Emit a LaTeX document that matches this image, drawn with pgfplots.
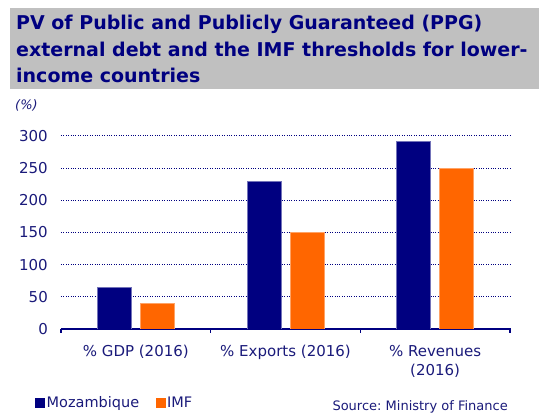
\documentclass[border=0pt]{standalone}
\usepackage{pgfplots}
\pgfplotsset{compat=1.18}
\usepackage{fontspec}
\setmainfont{DejaVu Sans}
\definecolor{navyc}{HTML}{000080}
\definecolor{orangec}{HTML}{FF6600}
\definecolor{titlegray}{HTML}{C0C0C0}
\definecolor{txt}{HTML}{1A1A7A}
\begin{document}
\begin{tikzpicture}[x=1pt,y=1pt]
\path[use as bounding box] (0,0) rectangle (549,414);
\fill[titlegray] (10,325) rectangle (539,406.3);
\node[anchor=base west, inner sep=0, text=navyc, font=\bfseries\fontsize{19}{21}\selectfont] at (16,384) {PV of Public and Publicly Guaranteed (PPG)};
\node[anchor=base west, inner sep=0, text=navyc, font=\bfseries\fontsize{19}{21}\selectfont] at (16,357.5) {external debt and the IMF thresholds for lower-};
\node[anchor=base west, inner sep=0, text=navyc, font=\bfseries\fontsize{19}{21}\selectfont] at (16,331) {income countries};
\node[anchor=base west, inner sep=0, text=txt, font=\itshape\fontsize{13}{15}\selectfont] at (15,304) {(\%)};
\node[anchor=base east, inner sep=0, text=txt, font=\fontsize{13}{15}\selectfont] at (508,3) {Source:\ Ministry\ of Finance};
\begin{axis}[
  at={(61pt,85pt)}, anchor=origin,
  scale only axis, width=449pt, height=193pt,
  xmin=0, xmax=3, ymin=0, ymax=300,
  ytick={0,50,...,300},
  ymajorgrids, grid style={navyc, dotted, line width=1pt},
  axis x line*=bottom, axis y line*=left,
  y axis line style={draw=none},
  x axis line style={navyc, line width=1.5pt, -},
  xtick={0.5,1.5,2.5},
  xticklabels={{\% GDP (2016)},{\% Exports (2016)},{\% Revenues\\(2016)}},
  minor xtick={0,1,2,3},
  tick align=outside,
  major tick length=0pt, minor tick length=4pt,
  minor tick style={navyc, line width=1.2pt},
  major tick style={draw=none},
  /pgf/number format/assume math mode=true,
  ticklabel style={text=txt, font=\fontsize{15}{19}\selectfont},
  xticklabel style={align=center, inner sep=0pt, yshift=-16pt},
  yticklabel style={inner sep=0pt, xshift=-13pt},
  ybar, bar width=34pt,
  legend style={draw=none, fill=none, at={(axis description cs:-0.058,0)}, anchor=west, yshift=-74pt,
    font=\fontsize{14.5}{17}\selectfont, text=txt, inner sep=0pt,
    nodes={inner sep=1.5pt},
    /tikz/every even column/.append style={column sep=15pt}},
  legend columns=2,
  legend image code/.code={\path[#1,draw=none] (0pt,-5pt) rectangle (10pt,5pt);},
]
\addplot[fill=navyc, draw=navyc!55!white, line width=0.6pt, bar shift=-21.5pt] coordinates {(0.5,65) (1.5,230) (2.5,292)};
\addplot[fill=orangec, draw=orangec!60!white, line width=0.6pt, bar shift=21.5pt] coordinates {(0.5,40) (1.5,150) (2.5,250)};
\legend{Mozambique, IMF}
\end{axis}
\end{tikzpicture}
\end{document}
